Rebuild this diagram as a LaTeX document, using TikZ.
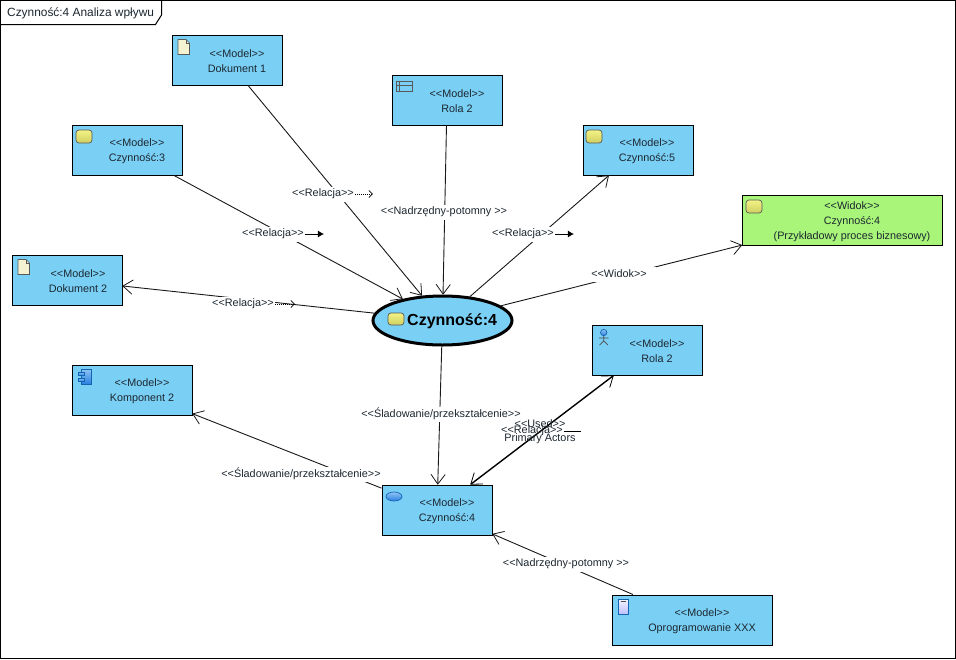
\documentclass[tikz,border=0pt]{standalone}
\usepackage{fontspec}
\setmainfont{Liberation Sans}[Ligatures=TeXOff]
\usetikzlibrary{arrows.meta,shapes.geometric}
\definecolor{mblue}{HTML}{7ACFF5}
\definecolor{mgreen}{HTML}{A9F57A}
\definecolor{txt}{HTML}{1C2730}
\definecolor{yla}{HTML}{F2F285}
\definecolor{ylb}{HTML}{CFCF62}
\definecolor{bla}{HTML}{8FC4F5}
\definecolor{blb}{HTML}{2A80E0}
\definecolor{bld}{HTML}{1464B4}
\pgfdeclarearrow{
  name=OpenVee,
  setup code={
    \pgfarrowssettipend{0pt}
    \pgfarrowssetbackend{-10pt}
    \pgfarrowssetlineend{-.8pt}
    \pgfarrowssetvisualbackend{-10pt}
    \pgfarrowshullpoint{0pt}{0pt}
    \pgfarrowshullpoint{-10pt}{7pt}
    \pgfarrowshullpoint{-10pt}{-7pt}
  },
  drawing code={
    \pgfsetdash{}{0pt}
    \pgfsetlinewidth{.8pt}
    \pgfsetroundjoin
    \pgfsetroundcap
    \pgfpathmoveto{\pgfqpoint{-10pt}{7pt}}
    \pgfpathlineto{\pgfqpoint{-.4pt}{0pt}}
    \pgfpathlineto{\pgfqpoint{-10pt}{-7pt}}
    \pgfusepathqstroke
  }
}
\tikzset{
  box/.style={draw=black,line width=1pt,fill=mblue,rectangle,minimum width=#1,minimum height=50pt,inner sep=0pt},
  boxtext/.style={text=txt,font=\fontsize{10.8}{15}\selectfont,align=center,inner sep=0pt},
  lab/.style={text=txt,font=\fontsize{10.85}{12}\selectfont,fill=white,inner xsep=1pt,inner ysep=0pt,minimum height=15pt,yshift=-1pt},
  labn/.style={text=txt,font=\fontsize{10.85}{12}\selectfont,inner sep=0pt},
  conn/.style={draw=black!90,line width=.9pt,-OpenVee},
  dotarrow/.style={draw=black,line width=.8pt,dash pattern=on 1pt off 1pt,-{Straight Barb[length=3.5pt,width=7pt,line width=.8pt,sep=0pt]}},
  solarrow/.style={draw=black,line width=.9pt,-{Latex[length=6pt,width=7pt]}},
  yicon/.style={draw=black!65,line width=.7pt,rounded corners=3pt,top color=yla,bottom color=ylb},
  bicon/.style={draw=bld,line width=.7pt,top color=bla,bottom color=blb},
  dicon/.style={draw=black!65,line width=.7pt,fill=yellow!15!white!95!black},
}
\begin{document}
\begin{tikzpicture}[x=1pt,y=-1pt]
\useasboundingbox (0,0) rectangle (956,659);
\draw[fill=white,line width=1pt,draw=black] (.5,.5) rectangle (955.5,658);
\node[inner sep=0pt,text=txt,font=\fontsize{11.9}{14}\selectfont,anchor=west] (title) at (7,13) {Czynność:4 Analiza wpływu};
\draw[line width=1pt] (.5,24.5) -- (155.5,24.5) -- (161.5,15) -- (161.5,.5);

% boxes
\node[box=110pt] (d1) at (227,60) {};
\node[box=110pt] (r2t) at (447,100) {};
\node[box=110pt] (c3) at (127,150) {};
\node[box=110pt] (c5) at (638,150) {};
\node[box=200pt,fill=mgreen] (wid) at (842.5,220) {};
\node[box=110pt] (d2) at (67,280) {};
\node[box=110pt] (r2a) at (647,350) {};
\node[box=120pt] (k2) at (132,390) {};
\node[box=110pt] (c4) at (437,510) {};
\node[box=160pt] (op) at (692,620) {};
\node[draw=black,line width=3pt,fill=mblue,ellipse,minimum width=139pt,minimum height=49pt,inner sep=0pt] (e) at (442.5,320.5) {};

% box texts
\node[boxtext] (d1t) at (237,61.3) {<<Model>>\\Dokument 1};
\node[boxtext] (r2tt) at (457,101.3) {<<Model>>\\Rola 2};
\node[boxtext] (c3t) at (137,151.3) {<<Model>>\\Czynność:3};
\node[boxtext] (c5t) at (647,151.3) {<<Model>>\\Czynność:5};
\node[boxtext] (widt) at (852,221.3) {<<Widok>>\\Czynność:4\\ (Przykładowy proces biznesowy)};
\node[boxtext] (d2t) at (78,281.3) {<<Model>>\\Dokument 2};
\node[boxtext] (r2at) at (657,351.3) {<<Model>>\\Rola 2};
\node[boxtext] (k2t) at (142,391.3) {<<Model>>\\Komponent 2};
\node[boxtext] (c4t) at (447,511.3) {<<Model>>\\Czynność:4};
\node[boxtext] (opt) at (702,621.3) {<<Model>>\\Oprogramowanie XXX};
\node[inner sep=0pt,font=\bfseries\fontsize{16}{18}\selectfont,text=black,anchor=west] (et) at (407,321) {Czynność:4};

% connectors
\draw[conn] (d1) -- (e);
\draw[conn] (c3) -- (e);
\draw[conn] (r2t) -- (e);
\draw[conn] (e) -- (c5);
\draw[conn] (e) -- (wid);
\draw[conn] (e) -- (d2);
\draw[conn] (e) -- (c4);
\draw[conn] (c4) -- (k2);
\draw[conn] (op) -- (c4);
\draw[draw=black,line width=1.4pt,OpenVee-OpenVee] (c4) -- (r2a);

% labels
\node[lab] (l1) at (323,193) {<<Relacja>>};
\draw[dotarrow] (l1.east) -- ++(18,0);
\node[lab] (l2) at (273,233) {<<Relacja>>};
\draw[solarrow] (l2.east) -- ++(19,0);
\node[lab] (l3) at (444,211) {<<Nadrzędny-potomny >>};
\node[lab] (l4) at (523,233) {<<Relacja>>};
\draw[solarrow] (l4.east) -- ++(19,0);
\node[lab,inner xsep=9pt] (l5) at (619,273) {<<Widok>>};
\node[lab] (l6) at (243,303) {<<Relacja>>};
\draw[dotarrow] (l6.east) -- ++(20,0);
\node[lab] (l7) at (441,413) {<<Śladowanie/przekształcenie>>};
\node[lab] (l8) at (301,473) {<<Śladowanie/przekształcenie>>};
\node[lab] (l9) at (566,563) {<<Nadrzędny-potomny >>};
\node[labn] (l10) at (540,423.5) {<<Used>>};
\node[labn] (l11) at (532,431) {<<Relacja>>};
\draw[line width=.9pt] (l11.east) ++(1,0) -- ++(17,0);
\node[labn] (l12) at (540,438.5) {Primary Actors};

% icons
\draw[yicon] (76,130) rectangle (92,143);
\draw[yicon] (586,130) rectangle (602,143);
\draw[yicon] (746,200) rectangle (762,213);
\draw[yicon] (388,313) rectangle (404,325);
% documents
\draw[dicon] (178,39.5) -- (186,39.5) -- (189.5,43) -- (189.5,54.5) -- (178,54.5) -- cycle;
\draw[line width=.5pt,draw=black!65] (186,39.5) -- (186,43) -- (189.5,43);
\draw[dicon] (18,259.5) -- (26,259.5) -- (29.5,263) -- (29.5,274.5) -- (18,274.5) -- cycle;
\draw[line width=.5pt,draw=black!65] (26,259.5) -- (26,263) -- (29.5,263);
% table
\draw[draw=black!65,line width=.8pt,fill=mblue] (396,81) rectangle (412.5,91.5);
\draw[draw=black!65,line width=.6pt] (396,85) -- (412.5,85) (399,81) -- (399,91.5);
% actor
\draw[bicon] (603.7,332.5) circle (3.2);
\draw[draw=black!70,line width=.7pt] (603.7,335.5) -- (603.7,341) (599,338) -- (608.5,338) (599.5,345) -- (603.7,341) -- (608,345);
% component
\draw[bicon] (81,369) rectangle (91,384);
\draw[bicon] (78,372) rectangle (84,375.5);
\draw[bicon] (78,378) rectangle (84,381.5);
% use case
\draw[bicon] (394,496.5) ellipse (8 and 4.5);
% device
\draw[bicon,top color=blue!5!white,bottom color=blue!25!white] (618,599.5) rectangle (628.5,614);
\draw[line width=.6pt,draw=black!70] (620.5,601.5) -- (626,601.5);
\end{tikzpicture}
\end{document}
